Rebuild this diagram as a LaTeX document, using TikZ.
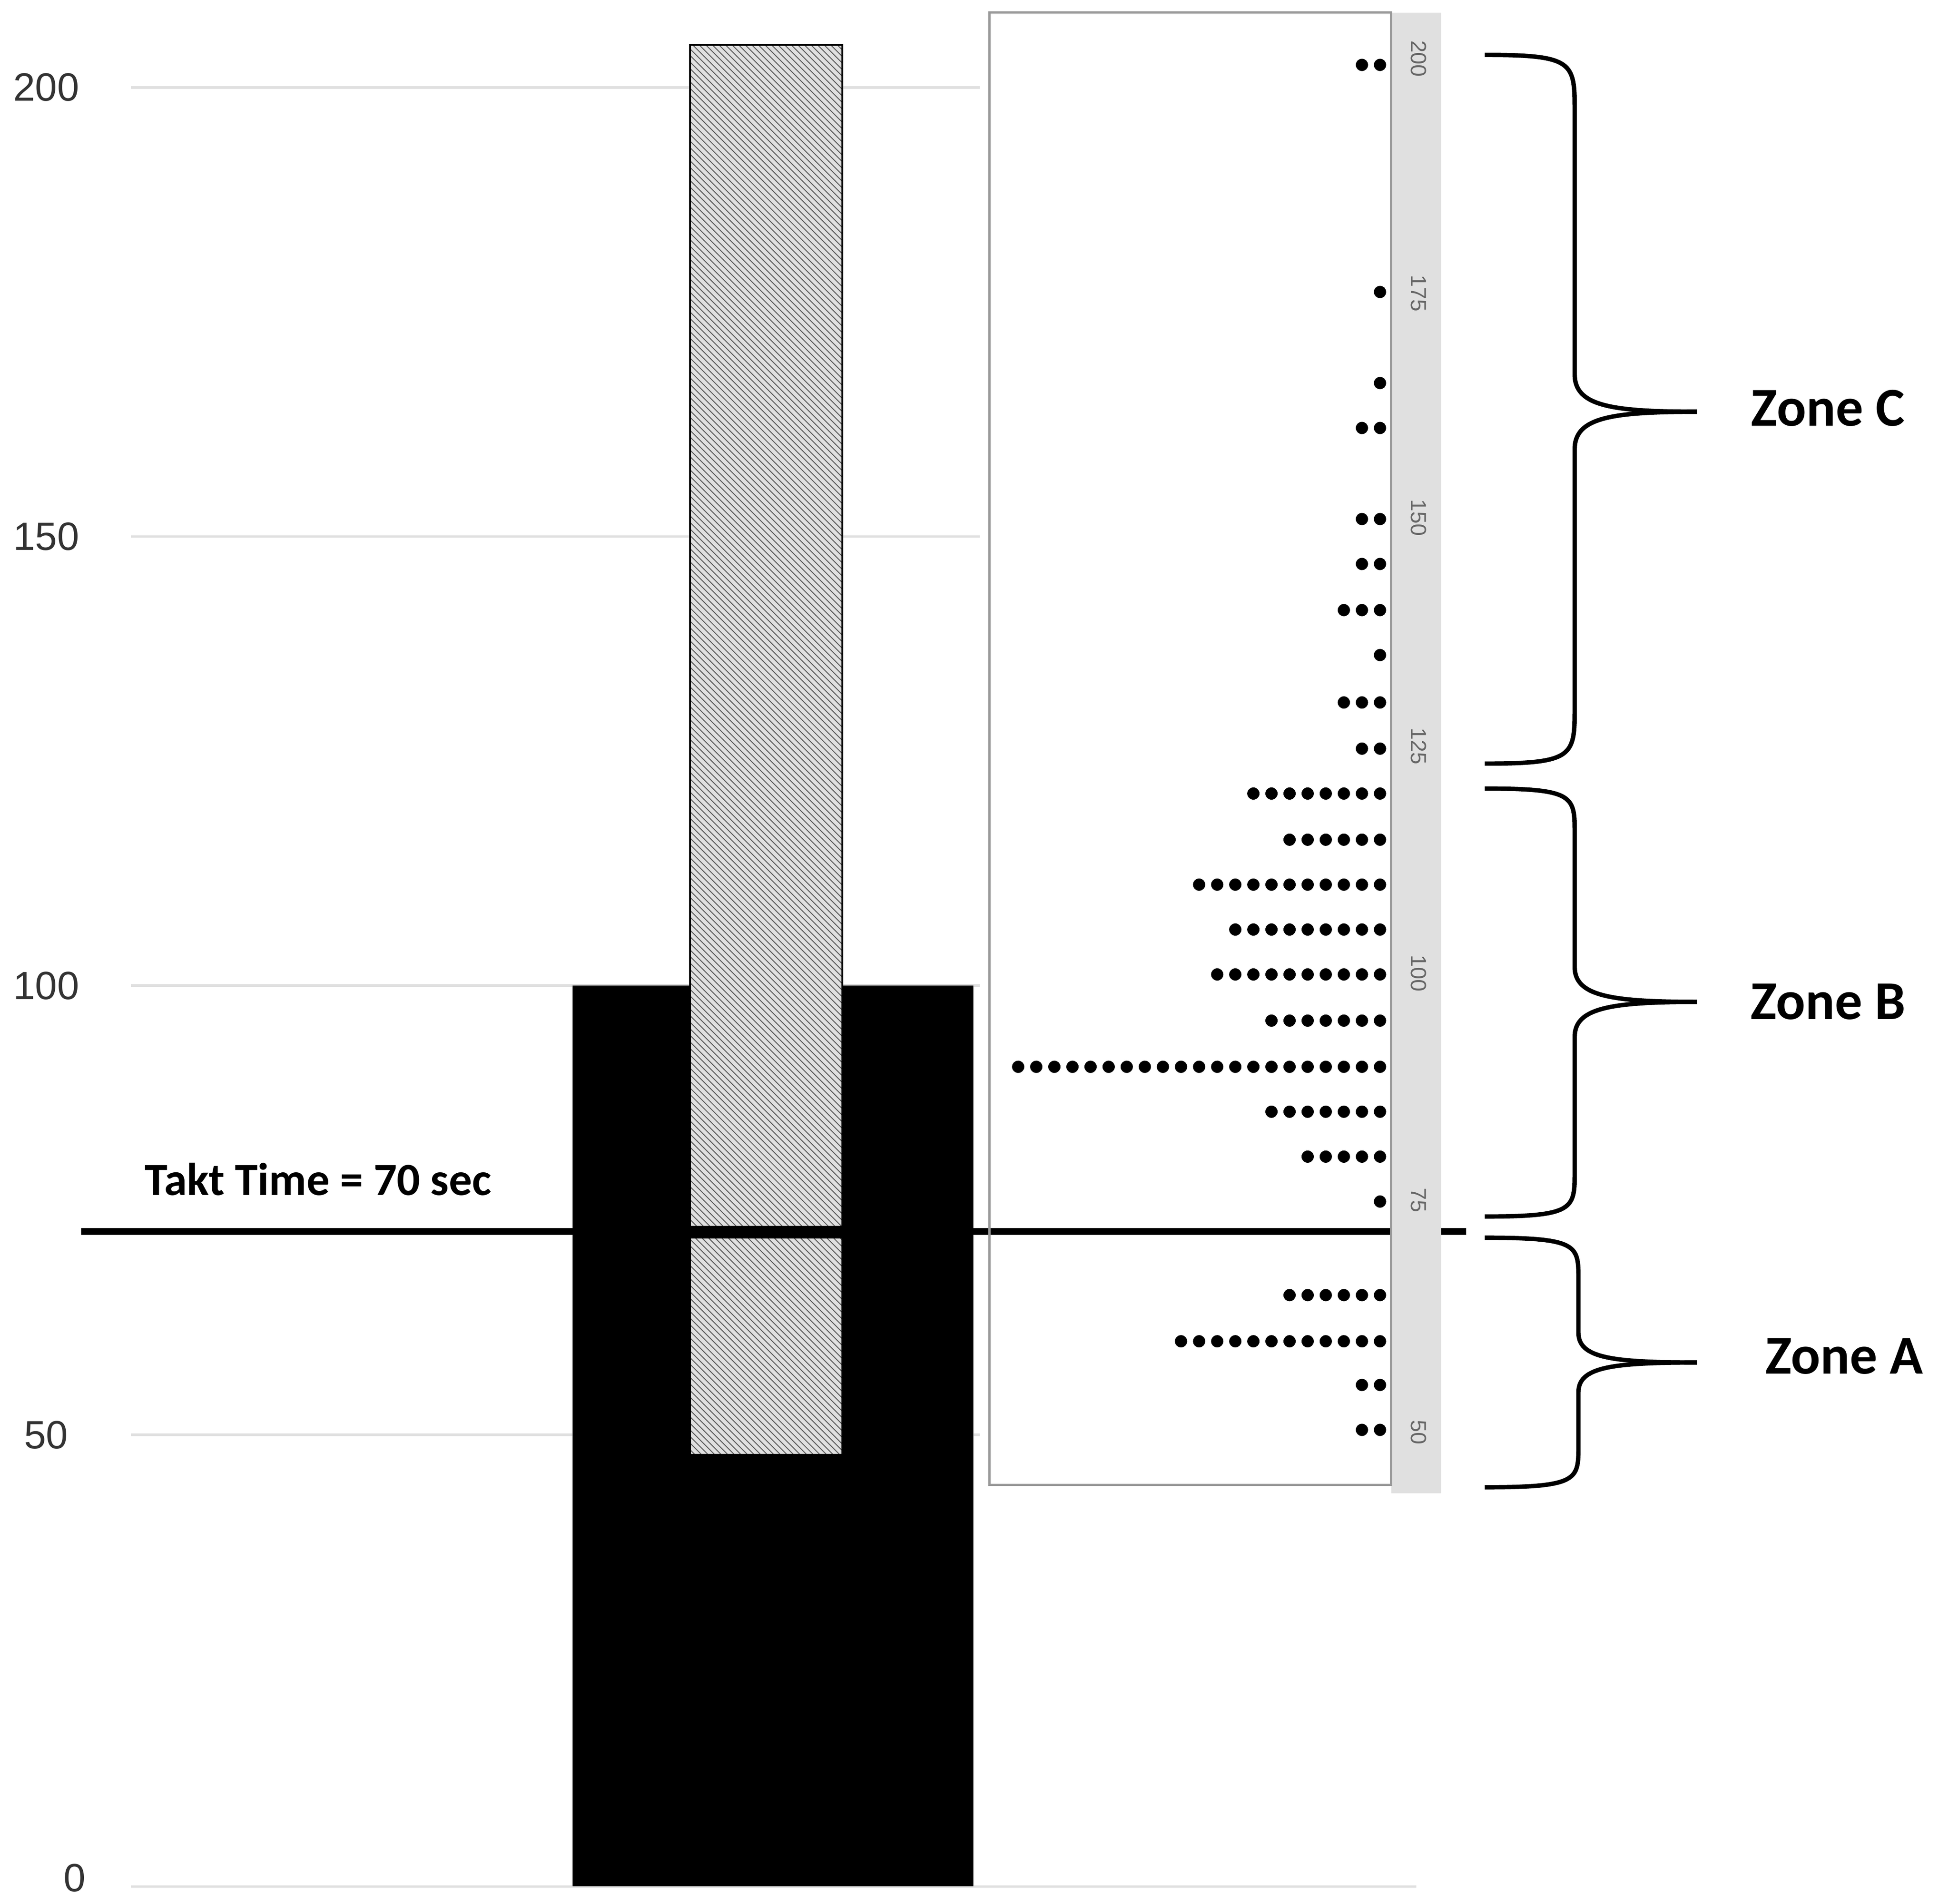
\documentclass[tikz,border=0pt]{standalone}
\usepackage{fontspec}
\setmainfont{Liberation Sans}
\newfontfamily\carl{Carlito}
\usetikzlibrary{patterns}
\begin{document}
\begin{tikzpicture}[x=0.02cm,y=-0.02cm,
  grid/.style={draw=black!12,line width=1.2pt},
  ax/.style={font=\fontsize{18}{20}\selectfont,text=black!80},
  zone/.style={font=\carl\bfseries\fontsize{25}{28}\selectfont},
  brace/.style={line width=2pt},
  strip/.style={font=\fontsize{10}{11}\selectfont,text=black!60,rotate=-90}]
\useasboundingbox (0,0) rectangle (1562,1526);
% grid
\foreach \v/\yy in {200/70,150/430,100/790,50/1150}{
  \draw[grid] (105,\yy) -- (785,\yy);
  \node[ax,anchor=center] (l\v) at (37,\yy) {\v};}
\draw[grid] (105,1512) -- (1135,1512);
\node[ax] (l0) at (60,1505) {0};
% black bar
\fill[black] (459,790) rectangle (780,1512);
% hatched bars
\fill[black!12] (553,36) rectangle (675,983);
\fill[pattern=north west lines,pattern color=black!65] (553,36) rectangle (675,983);
\draw[black,line width=0.8pt] (553,36) rectangle (675,983);
\fill[black!12] (553,992) rectangle (675,1166);
\fill[pattern=north west lines,pattern color=black!65] (553,992) rectangle (675,1166);
\draw[black,line width=0.8pt] (553,992) rectangle (675,1166);
% takt line
\draw[line width=3.2pt] (65,987) -- (459,987);
\draw[line width=3.2pt] (780,987) -- (1175,987);
\node[font=\carl\bfseries\fontsize{21}{24}\selectfont] (takt) at (255,945) {Takt Time = 70 sec};
% dot panel
\fill[black!12] (1115,10) rectangle (1155,1197);
\draw[black!40,line width=1pt] (793,10) rectangle (1115,1190);
\foreach \v/\yy in {200/47,175/235,150/415,125/598,100/780,75/962,50/1148}
  \node[strip] (s\v) at (1137,\yy) {\v};
\foreach \yy/\n in {52/2,234/1,307/1,343/2,416/2,452/2,489/3,525/1,563/3,600/2,636/8,673/6,709/11,745/9,781/10,818/7,855/21,891/7,927/5,963/1,1038/6,1075/12,1110/2,1146/2}{
  \foreach \i in {1,...,\n}{
    \fill ({1106-(\i-1)*14.5},\yy) circle (2.8pt);}}
% braces
\draw[brace] (1190,44) .. controls (1262,44) and (1262,50) .. (1262,90) -- (1262,300) .. controls (1262,325) and (1290,330) .. (1360,330);
\draw[brace] (1190,612) .. controls (1262,612) and (1262,606) .. (1262,566) -- (1262,360) .. controls (1262,335) and (1290,330) .. (1360,330);
\draw[brace] (1190,632) .. controls (1262,632) and (1262,638) .. (1262,668) -- (1262,775) .. controls (1262,798) and (1290,803) .. (1360,803);
\draw[brace] (1190,975) .. controls (1262,975) and (1262,969) .. (1262,939) -- (1262,831) .. controls (1262,808) and (1290,803) .. (1360,803);
\draw[brace] (1190,992) .. controls (1265,992) and (1265,998) .. (1265,1025) -- (1265,1068) .. controls (1265,1088) and (1290,1092) .. (1360,1092);
\draw[brace] (1190,1192) .. controls (1265,1192) and (1265,1186) .. (1265,1159) -- (1265,1116) .. controls (1265,1096) and (1290,1092) .. (1360,1092);
\node[zone] (zc) at (1465,327) {Zone C};
\node[zone] (zb) at (1465,803) {Zone B};
\node[zone] (za) at (1478,1087) {Zone A};
\end{tikzpicture}
\end{document}
